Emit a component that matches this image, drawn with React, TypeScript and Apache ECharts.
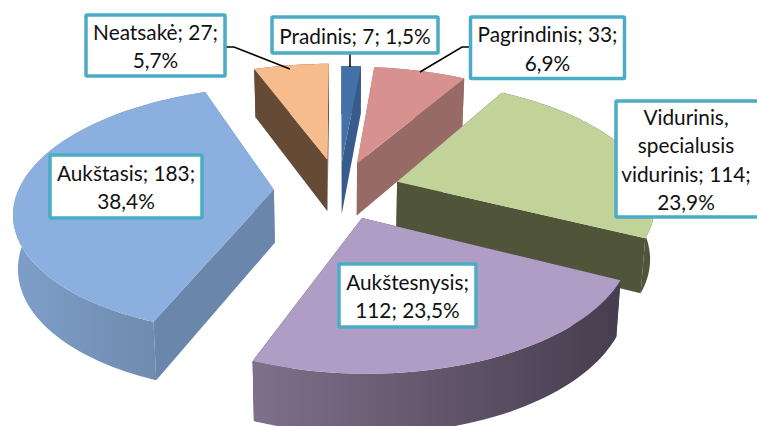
import React, { useEffect, useRef } from "react";
import * as echarts from "echarts";

const categories = ["Pradinis", "Pagrindinis", "Vidurinis, specialusis vidurinis", "Aukštesnysis", "Aukštasis", "Neatsakė"];
const values = [7, 33, 114, 112, 183, 27];
const labelLines = [
  ["Pradinis; 7; 1,5%"],
  ["Pagrindinis; 33;", "6,9%"],
  ["Vidurinis,", "specialusis", "vidurinis; 114;", "23,9%"],
  ["Aukštesnysis;", "112; 23,5%"],
  ["Aukštasis; 183;", "38,4%"],
  ["Neatsakė; 27;", "5,7%"],
];
const topColors = ["#4472A8", "#D79290", "#C2D39A", "#B09DC5", "#8BB0DF", "#F6BC8B"];
const wallColors = ["#375C8B", "#976A66", "#50553A", "#4A4254", "#6A86AB", "#654B35"];
const rimStart = ["#375C8B", "#976A66", "#50553A", "#806F8A", "#7E9FCA", "#654B35"];
const rimEnd = ["#375C8B", "#976A66", "#50553A", "#463D4E", "#6A84A4", "#654B35"];

// label box: [left, top, right, bottom]
const boxes = [
  [272, 17, 438, 53],
  [470.5, 17, 624.5, 78.5],
  [616, 101, 762, 217],
  [339, 264, 476, 327],
  [50, 155, 202, 218],
  [86, 15, 225, 76],
];
const leaders: number[][][] = [
  [[350, 53], [350, 67]],
  [[470, 47], [462, 47], [420, 72]],
  [],
  [],
  [],
  [[225, 47], [234, 47], [290, 69]],
];

const total = values.reduce((a, b) => a + b, 0);
const CX = 339, CY = 190, SX = 255.5, KY = 120.2, P = 0.1626;
const explodes = [0.24, 0.24, 0.24, 0.24, 0.255, 0.27];

function project(X: number, Y: number, bottom: boolean): number[] {
  const w = 1 + P * Y;
  const sx = CX + (SX * X) / w;
  const sy = CY - (KY * Y) / w;
  if (!bottom) return [sx, sy];
  return [CX + (sx - CX) * 0.985, sy + 23 + 30 / w];
}

function sliceItem(params: any, api: any) {
  const i = params.dataIndex;
  const before = values.slice(0, i).reduce((a, b) => a + b, 0);
  const a0 = (before / total) * Math.PI * 2;
  const a1 = a0 + (api.value(0) / total) * Math.PI * 2;
  const mid = (a0 + a1) / 2;
  const ox = explodes[i] * Math.sin(mid);
  const oy = explodes[i] * Math.cos(mid);
  const n = Math.max(6, Math.ceil((a1 - a0) / 0.03));
  const arc: number[][] = [];
  for (let k = 0; k <= n; k++) {
    const a = a0 + ((a1 - a0) * k) / n;
    arc.push([ox + Math.sin(a), oy + Math.cos(a)]);
  }
  const top = arc.map((p) => project(p[0], p[1], false));
  const bot = arc.map((p) => project(p[0], p[1], true));
  const tipT = project(ox, oy, false);
  const tipB = project(ox, oy, true);
  const rank = 60 - Math.round(oy * 100) + 100;
  const xs = top.map((p) => p[0]).concat(bot.map((p) => p[0]));
  const grad = new echarts.graphic.LinearGradient(
    Math.min(...xs), 0, Math.max(...xs), 0,
    [{ offset: 0, color: rimStart[i] }, { offset: 1, color: rimEnd[i] }],
    true
  );
  const meanY = arc.reduce((s, p) => s + p[1], 0) / arc.length;
  const sides = [
    { y: (oy + arc[0][1]) / 2, points: [tipT, top[0], bot[0], tipB], fill: wallColors[i] as any },
    { y: (oy + arc[n][1]) / 2, points: [tipT, top[n], bot[n], tipB], fill: wallColors[i] as any },
    { y: meanY, points: top.concat(bot.slice().reverse()), fill: grad as any },
  ].sort((a, b) => b.y - a.y);
  const children: any[] = sides.map((s, k) => ({
    type: "polygon",
    z2: rank * 10 + k,
    shape: { points: s.points },
    style: { fill: s.fill, stroke: null },
  }));
  children.push({
    type: "polygon",
    z2: rank * 10 + 5,
    shape: { points: [tipT].concat(top) },
    style: { fill: topColors[i], stroke: null },
  });
  return { type: "group", children };
}

function labelGraphics(): any[] {
  const out: any[] = [];
  leaders.forEach((pts) => {
    if (pts.length)
      out.push({ type: "polyline", z: 10, shape: { points: pts }, style: { stroke: "#000", lineWidth: 1.5, fill: null } });
  });
  boxes.forEach((b, i) => {
    out.push({
      type: "rect",
      z: 11,
      shape: { x: b[0], y: b[1], width: b[2] - b[0], height: b[3] - b[1], r: 1 },
      style: { fill: "#fff", stroke: "#4BACC6", lineWidth: 3.5 },
    });
    const lh = 28.5;
    const lines = labelLines[i];
    const cx = i === 2 ? 686 : (b[0] + b[2]) / 2;
    const startY = (b[1] + b[3]) / 2 - ((lines.length - 1) * lh) / 2;
    lines.forEach((t, k) => {
      out.push({
        type: "text",
        z: 12,
        x: cx,
        y: startY + k * lh,
        style: {
          text: t,
          fill: "#111",
          font: '20.8px Lato, "Noto Sans", sans-serif',
          textAlign: "center",
          textVerticalAlign: "middle",
        },
      });
    });
  });
  return out;
}

export default function App() {
  const ref = useRef<HTMLDivElement>(null);
  useEffect(() => {
    document.body.style.margin = "0";
    const chart = echarts.init(ref.current!, null, { renderer: "svg" });
    chart.setOption({
      animation: false,
      backgroundColor: "#fff",
      series: [
        {
          type: "custom",
          coordinateSystem: "none",
          renderItem: sliceItem,
          data: values.map((v, i) => ({ name: categories[i], value: v })),
          silent: true,
          clip: false,
        },
      ],
      graphic: { elements: labelGraphics() },
    });
    return () => chart.dispose();
  }, []);
  return <div ref={ref} style={{ width: 757, height: 426, overflow: "hidden" }} />;
}
